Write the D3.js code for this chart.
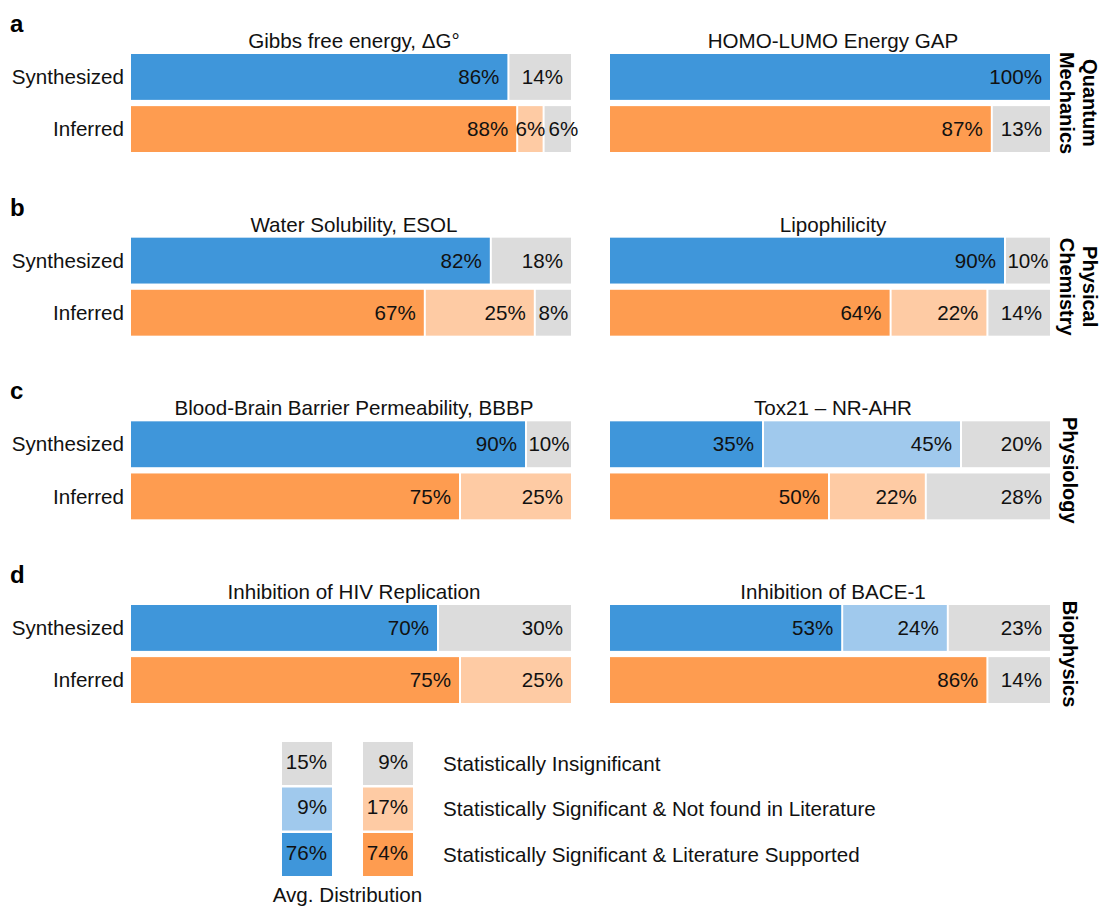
<!DOCTYPE html>
<html>
<head>
<meta charset="utf-8">
<script src="https://cdn.jsdelivr.net/npm/d3@7"></script>
<style>
  body { margin: 0; background: #fff; }
  svg { font-family: "Liberation Sans", Arial, Helvetica, sans-serif; }
</style>
</head>
<body>
<svg id="chart" width="1104" height="906"></svg>
<script>
// --- data ---
const categories = ['Synthesized', 'Inferred'];
const groupLetters = ['a', 'b', 'c', 'd'];
const groupNames = [['Quantum', 'Mechanics'], ['Physical', 'Chemistry'], ['Physiology'], ['Biophysics']];
const panelTitles = [
  'Gibbs free energy, ΔG°', 'HOMO-LUMO Energy GAP',
  'Water Solubility, ESOL', 'Lipophilicity',
  'Blood-Brain Barrier Permeability, BBBP', 'Tox21 – NR-AHR',
  'Inhibition of HIV Replication', 'Inhibition of BACE-1'
];
// segments: [literature supported, not found in literature, insignificant]
const synthesizedValues = [
  [86, 0, 14], [100, 0, 0],
  [82, 0, 18], [90, 0, 10],
  [90, 0, 10], [35, 45, 20],
  [70, 0, 30], [53, 24, 23]
];
const inferredValues = [
  [88, 6, 6], [87, 0, 13],
  [67, 25, 8], [64, 22, 14],
  [75, 25, 0], [50, 22, 28],
  [75, 25, 0], [86, 0, 14]
];
const legendLabels = [
  'Statistically Significant & Literature Supported',
  'Statistically Significant & Not found in Literature',
  'Statistically Insignificant'
];
const avgSynthesized = [76, 9, 15];
const avgInferred = [74, 17, 9];

const colors = {
  Synthesized: ['#3f96da', '#a0c9ed', '#dcdcdc'],
  Inferred: ['#fe9c50', '#fecba4', '#dcdcdc']
};

const FS = 20.6;
const svg = d3.select('#chart');

// --- layout scales ---
const rowTop = d3.scaleLinear().domain([0, 3]).range([54, 605]);
const panelX = d3.scaleOrdinal().domain([0, 1]).range([131, 610]);
const panelW = 440;
const x = d3.scaleLinear().domain([0, 100]).range([0, panelW]);
const y = d3.scaleBand().domain(categories).range([0, 98]).paddingInner(0.12);

function drawBar(g, values, cat) {
  const ends = d3.cumsum(values);
  const segs = values.map((v, i) => ({ v, i, start: ends[i] - v, end: ends[i] }))
    .filter(d => d.v > 0);
  const bar = g.append('g').attr('transform', `translate(0,${y(cat)})`);
  bar.selectAll('rect').data(segs).join('rect')
    .attr('x', d => x(d.start))
    .attr('y', 0)
    .attr('width', d => Math.max(0, x(d.end) - x(d.start) - (d.end >= 100 ? 0 : 2)))
    .attr('height', y.bandwidth())
    .attr('fill', d => colors[cat][d.i]);
  bar.selectAll('text').data(segs).join('text')
    .attr('y', y.bandwidth() / 2)
    .attr('dy', '0.35em')
    .attr('font-size', FS)
    .attr('fill', '#111')
    .text(d => d.v + '%')
    .each(function (d) {
      const tw = this.getComputedTextLength();
      const w = x(d.end) - x(d.start) - (d.end >= 100 ? 0 : 2);
      const t = d3.select(this);
      if (w >= tw + 16) {
        t.attr('x', x(d.start) + w - 8).attr('text-anchor', 'end');
      } else if (d.end >= 100 && w < tw) {
        // tiny last segment: let the label spill a little past the bar end
        t.attr('x', x(d.start) + 4).attr('text-anchor', 'start');
      } else {
        t.attr('x', x(d.start) + w / 2).attr('text-anchor', 'middle');
      }
    });
}

groupLetters.forEach((letter, r) => {
  const top = rowTop(r);
  const row = svg.append('g').attr('transform', `translate(0,${top})`);

  row.append('text')
    .attr('x', 10).attr('y', -22)
    .attr('font-size', 24).attr('font-weight', 'bold')
    .text(letter);

  row.selectAll('.cat').data(categories).join('text')
    .attr('class', 'cat')
    .attr('x', 124)
    .attr('y', d => y(d) + y.bandwidth() / 2)
    .attr('dy', '0.35em')
    .attr('text-anchor', 'end')
    .attr('font-size', FS)
    .attr('fill', '#111')
    .text(d => d);

  [0, 1].forEach(c => {
    const p = r * 2 + c;
    const g = row.append('g').attr('transform', `translate(${panelX(c)},0)`);
    g.append('text')
      .attr('x', panelW / 2 + 3).attr('y', -6)
      .attr('text-anchor', 'middle')
      .attr('font-size', FS)
      .attr('fill', '#111')
      .text(panelTitles[p]);
    drawBar(g, synthesizedValues[p], 'Synthesized');
    drawBar(g, inferredValues[p], 'Inferred');
  });

  // rotated group name on the right
  const lines = groupNames[r];
  const n = lines.length;
  lines.forEach((line, k) => {
    const cx = 1070 + (n - 1) * 8 + ((n - 1) / 2 - k) * 23;
    row.append('text')
      .attr('transform', `translate(${cx},${49}) rotate(90)`)
      .attr('text-anchor', 'middle')
      .attr('dy', '0.35em')
      .attr('font-size', 20)
      .attr('font-weight', 'bold')
      .text(line);
  });
});

// --- legend ---
const legendCols = d3.scaleBand().domain(categories).range([282, 413]).paddingInner(0.383);
const legendRows = d3.scaleBand().domain([2, 1, 0]).range([742, 876]).paddingInner(0.055);
const avgByCat = { Synthesized: avgSynthesized, Inferred: avgInferred };

const legend = svg.append('g');
categories.forEach(cat => {
  const cells = avgByCat[cat].map((v, i) => ({ v, i }));
  const col = legend.append('g').attr('transform', `translate(${legendCols(cat)},0)`);
  col.selectAll('rect').data(cells).join('rect')
    .attr('x', 0)
    .attr('y', d => legendRows(d.i))
    .attr('width', legendCols.bandwidth())
    .attr('height', legendRows.bandwidth())
    .attr('fill', d => colors[cat][d.i]);
  col.selectAll('text').data(cells).join('text')
    .attr('x', legendCols.bandwidth() - 5)
    .attr('y', d => legendRows(d.i) + legendRows.bandwidth() / 2 - 2)
    .attr('dy', '0.35em')
    .attr('text-anchor', 'end')
    .attr('font-size', FS)
    .attr('fill', '#111')
    .text(d => d.v + '%');
});

legend.selectAll('.lab').data(legendLabels).join('text')
  .attr('class', 'lab')
  .attr('x', 443)
  .attr('y', (d, i) => legendRows(i) + legendRows.bandwidth() / 2)
  .attr('dy', '0.35em')
  .attr('font-size', FS)
  .attr('fill', '#111')
  .text(d => d);

legend.append('text')
  .attr('x', (legendCols.range()[0] + legendCols.range()[1]) / 2)
  .attr('y', 902)
  .attr('text-anchor', 'middle')
  .attr('font-size', FS)
  .attr('fill', '#111')
  .text('Avg. Distribution');
</script>
</body>
</html>
